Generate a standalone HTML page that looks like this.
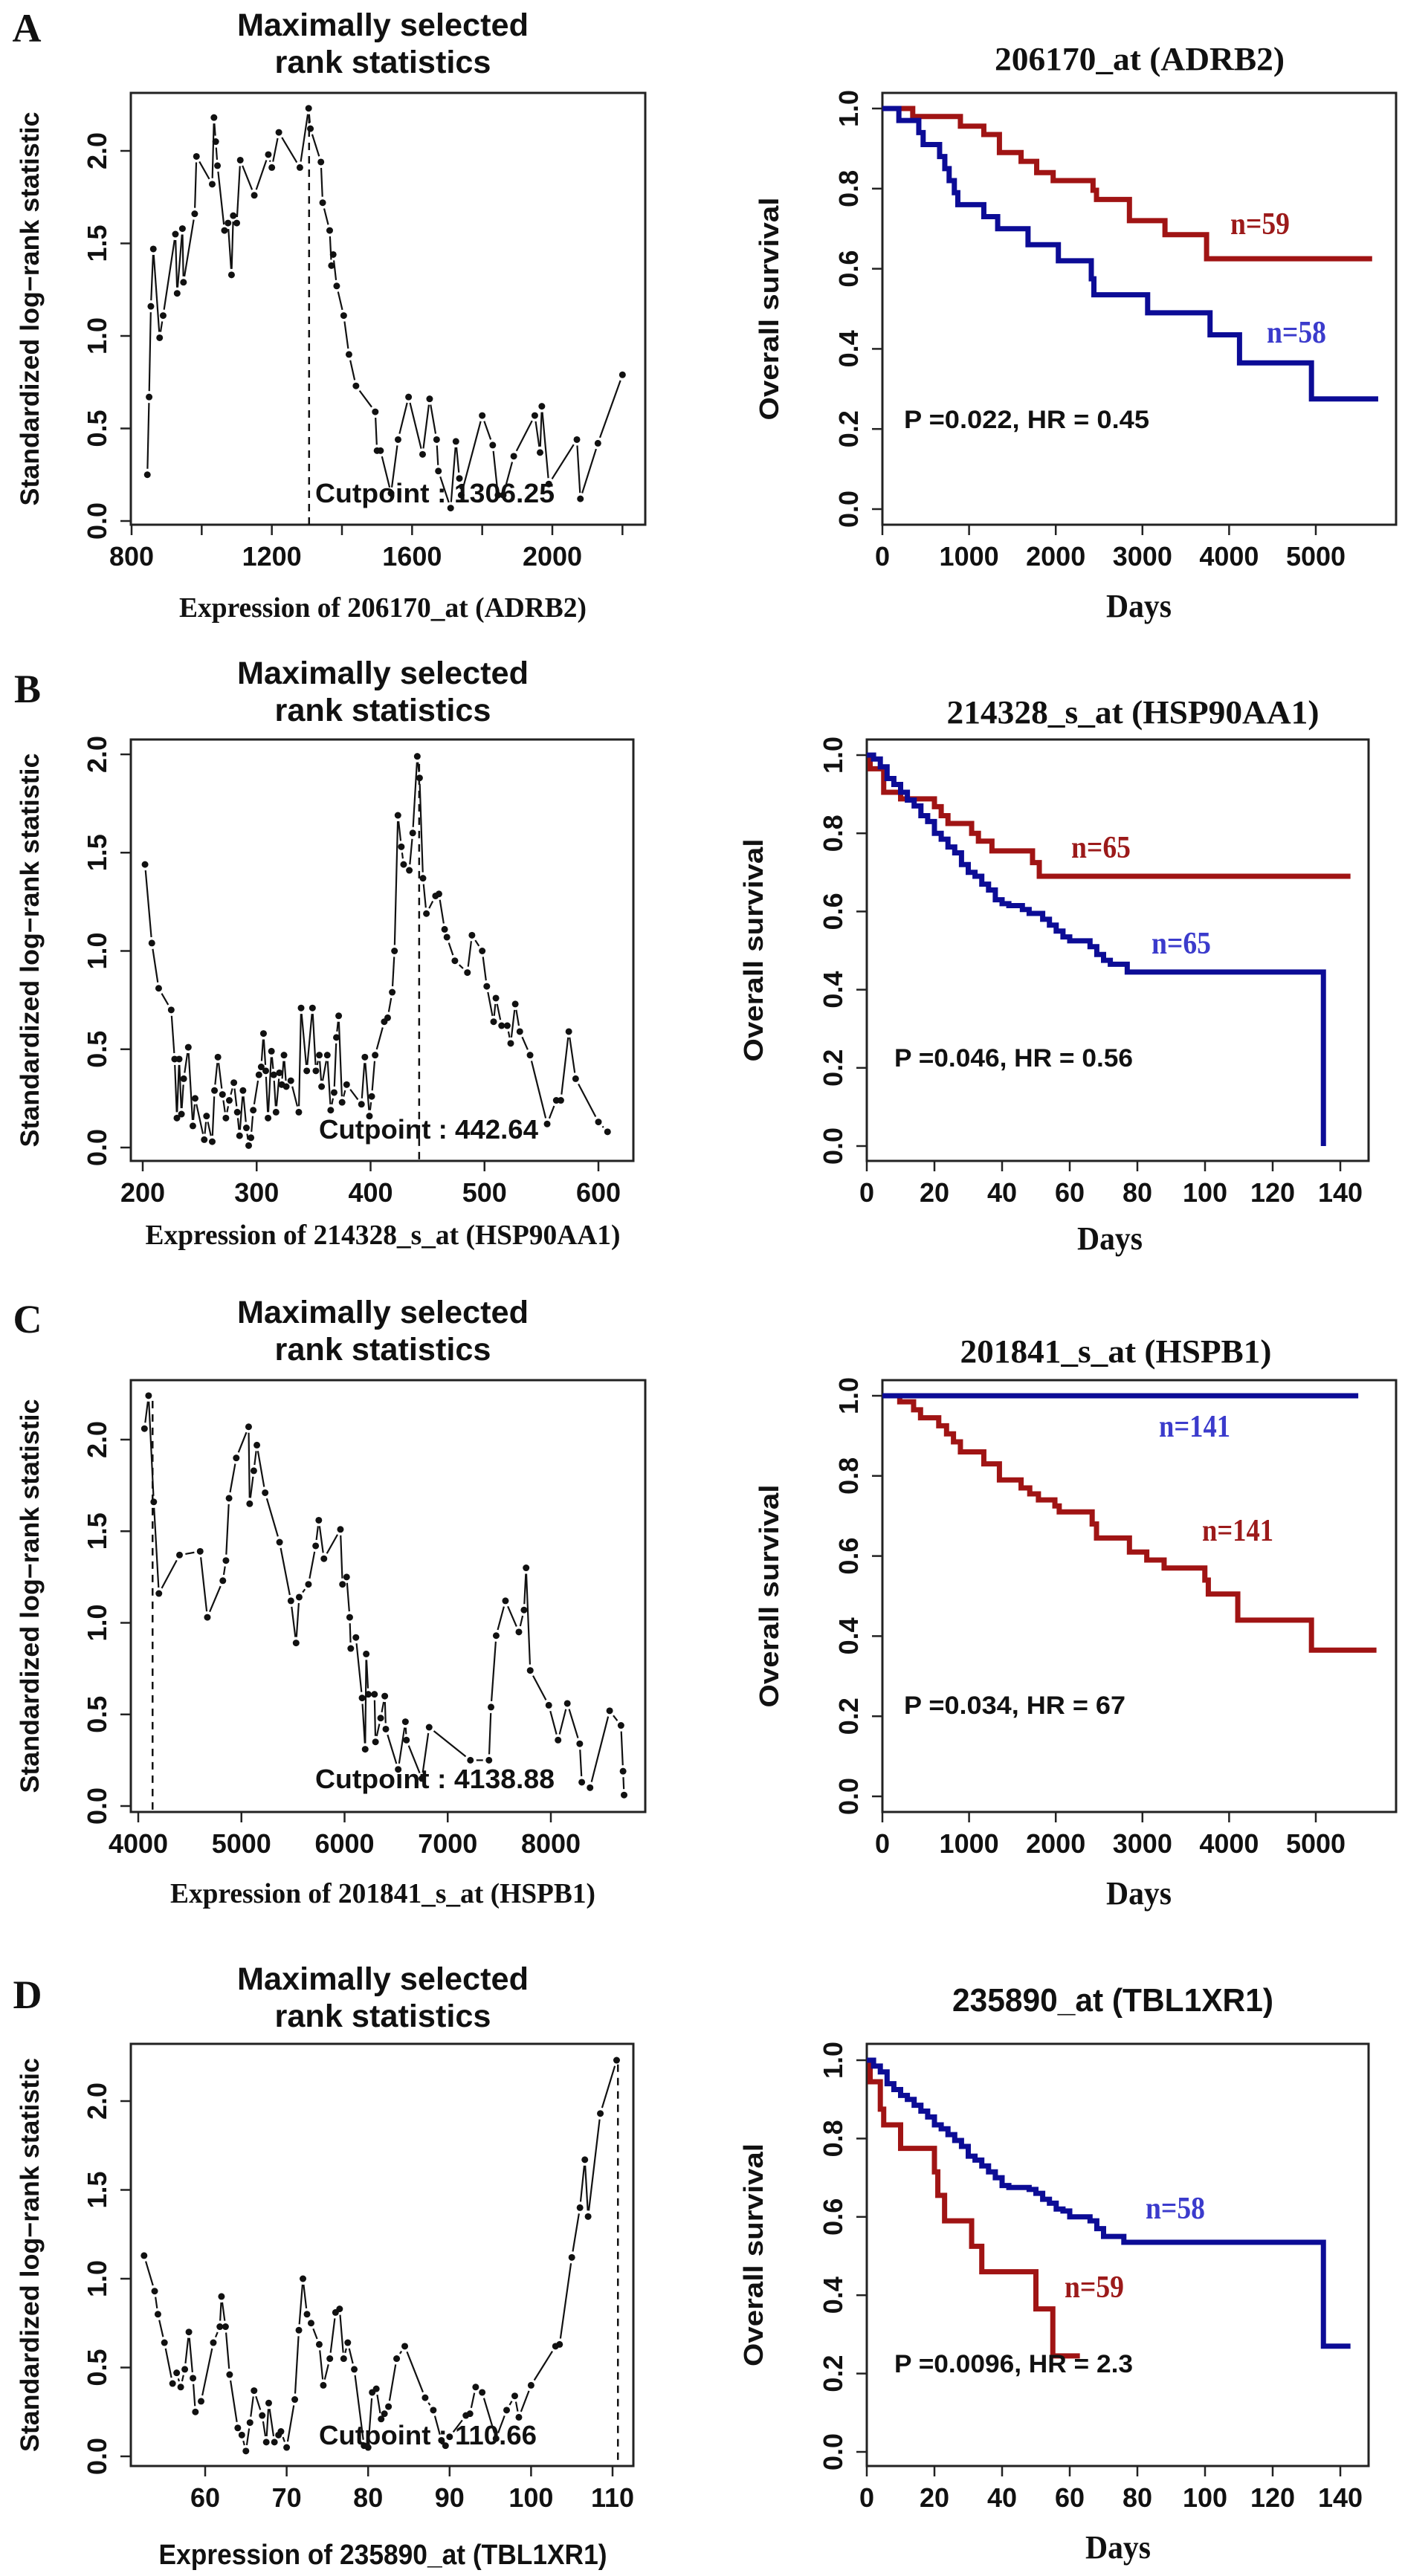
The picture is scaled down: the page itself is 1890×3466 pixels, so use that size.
<!DOCTYPE html>
<html><head><meta charset="utf-8"><title>Maxstat and KM survival panels</title>
<style>
html,body{margin:0;padding:0;background:#fff;}
svg{display:block;}
.sans{font-family:"Liberation Sans",Arial,sans-serif;font-weight:bold;}
.serif{font-family:"Liberation Serif","Times New Roman",serif;font-weight:bold;}
</style></head>
<body>
<svg id="fig" xmlns="http://www.w3.org/2000/svg" width="1890" height="3466" viewBox="0 0 1890 3466"></svg>
<script>
// ---------- DATA ----------
const aStatX = [845,850,855,862,880,890,925,930,945,948,980,985,1030,1035,1040,1045,1065,1075,1085,1090,1100,1110,1150,1190,1200,1220,1280,1305,1310,1340,1345,1365,1370,1375,1385,1405,1420,1440,1495,1500,1510,1540,1560,1590,1630,1650,1670,1675,1710,1725,1735,1740,1800,1830,1845,1860,1890,1950,1965,1970,1990,2070,2080,2130,2200];
const aStatY = [0.25,0.67,1.16,1.47,0.99,1.11,1.55,1.23,1.58,1.29,1.66,1.97,1.82,2.18,2.05,1.92,1.57,1.61,1.33,1.65,1.61,1.95,1.76,1.98,1.91,2.10,1.91,2.23,2.12,1.94,1.72,1.57,1.38,1.44,1.27,1.11,0.90,0.73,0.59,0.38,0.38,0.15,0.44,0.67,0.36,0.66,0.44,0.27,0.07,0.43,0.23,0.14,0.57,0.41,0.14,0.14,0.35,0.57,0.37,0.62,0.20,0.44,0.12,0.42,0.79];
const aCut = 1306.25;
const bStatX = [202,208,214,225,228,230,232,234,236,240,244,246,254,256,261,263,266,270,273,276,280,283,285,288,291,293,295,297,302,304,306,308,310,313,315,317,320,322,324,326,330,337,339,344,349,352,355,357,362,365,368,370,372,375,379,392,395,399,401,404,412,415,419,421,424,427,429,434,437,441,443,446,449,457,460,465,467,474,485,489,498,502,508,510,515,520,523,527,531,540,555,563,567,574,580,600,608];
const bStatY = [1.44,1.04,0.81,0.70,0.45,0.15,0.45,0.17,0.35,0.51,0.11,0.25,0.04,0.16,0.03,0.29,0.46,0.27,0.15,0.24,0.33,0.18,0.06,0.29,0.10,0.01,0.05,0.19,0.37,0.41,0.58,0.39,0.15,0.49,0.37,0.18,0.38,0.32,0.47,0.31,0.34,0.18,0.71,0.39,0.71,0.39,0.47,0.31,0.47,0.19,0.28,0.56,0.67,0.23,0.32,0.22,0.46,0.16,0.26,0.47,0.64,0.66,0.79,1.00,1.69,1.53,1.44,1.41,1.60,1.99,1.88,1.37,1.19,1.28,1.29,1.11,1.07,0.95,0.89,1.08,1.00,0.82,0.64,0.76,0.62,0.62,0.53,0.73,0.59,0.47,0.12,0.24,0.24,0.59,0.35,0.13,0.08];
const bCut = 442.64;
const cStatX = [4060,4100,4150,4200,4400,4600,4670,4820,4850,4880,4950,5070,5080,5120,5150,5230,5370,5480,5530,5560,5650,5720,5750,5800,5960,5980,6020,6050,6060,6110,6170,6200,6210,6230,6290,6300,6350,6390,6400,6520,6590,6600,6750,6820,7220,7400,7420,7470,7560,7690,7740,7760,7800,7980,8070,8160,8280,8300,8380,8570,8680,8700,8710];
const cStatY = [2.06,2.24,1.66,1.16,1.37,1.39,1.03,1.23,1.34,1.68,1.90,2.07,1.65,1.83,1.97,1.71,1.44,1.12,0.89,1.14,1.21,1.42,1.56,1.35,1.51,1.21,1.25,1.03,0.86,0.92,0.59,0.31,0.83,0.61,0.61,0.35,0.48,0.60,0.42,0.20,0.46,0.36,0.15,0.43,0.25,0.25,0.54,0.93,1.12,0.95,1.07,1.30,0.74,0.55,0.36,0.56,0.34,0.13,0.10,0.52,0.44,0.19,0.06];
const cCut = 4138.88;
const dStatX = [52.5,53.8,54.2,55,56,56.5,57,57.5,58,58.5,58.8,59.5,61,61.8,62,62.5,63,64,64.5,65,65.5,66,67,67.5,67.8,68.5,69,69.3,70,71,71.5,72,72.5,73,74,74.5,75.3,76,76.5,77,77.5,78.3,79.5,80,80.5,81,81.6,82,82.5,83.5,84.5,87,88,89,89.5,90,92,92.5,93.2,94,95.7,97,98,98.5,100,103,103.5,105,106,106.6,107,108.5,110.5];
const dStatY = [1.13,0.93,0.80,0.64,0.41,0.47,0.39,0.49,0.70,0.44,0.25,0.31,0.64,0.73,0.90,0.73,0.46,0.16,0.12,0.03,0.19,0.37,0.23,0.08,0.30,0.08,0.12,0.14,0.05,0.32,0.71,1.00,0.80,0.75,0.63,0.40,0.55,0.81,0.83,0.55,0.64,0.49,0.06,0.05,0.36,0.38,0.21,0.24,0.28,0.55,0.62,0.33,0.26,0.09,0.06,0.11,0.23,0.24,0.39,0.36,0.10,0.26,0.34,0.22,0.40,0.62,0.63,1.12,1.40,1.67,1.35,1.93,2.23];
const dCut = 110.66;

const aRedT = [0,350,900,1170,1350,1600,1780,1970,2430,2470,2850,3260,3740,5650];
const aRedS = [1,0.98,0.956,0.935,0.89,0.868,0.84,0.82,0.796,0.773,0.72,0.685,0.625,0.625];
const aBlueT = [0,190,420,470,660,720,770,830,870,1170,1330,1680,2030,2410,2440,3060,3780,4120,4950,5720];
const aBlueS = [1,0.97,0.94,0.91,0.88,0.85,0.82,0.79,0.76,0.73,0.70,0.66,0.62,0.575,0.535,0.49,0.435,0.365,0.275,0.275];
const bRedT = [0,1,5,10,20,22,24,31,33,37,49,51,143];
const bRedS = [1,0.965,0.905,0.888,0.868,0.845,0.825,0.80,0.78,0.755,0.725,0.69,0.69];
const bBlueT = [0,2,4,6,8,10,12,14,16,18,20,22,24,26,28,30,32,34,36,38,40,42,46,48,52,54,56,58,60,66,68,70,72,77,135,135];
const bBlueS = [1,0.99,0.97,0.94,0.925,0.905,0.885,0.87,0.845,0.83,0.80,0.785,0.765,0.75,0.72,0.70,0.69,0.67,0.655,0.63,0.62,0.615,0.605,0.595,0.58,0.565,0.55,0.535,0.525,0.51,0.49,0.475,0.465,0.445,0,0];
const cBlueT = [0,5490];
const cBlueS = [1,1];
const cRedT = [0,200,360,440,650,740,820,900,1170,1350,1600,1700,1800,1990,2040,2420,2470,2850,3050,3250,3720,3760,4100,4950,5700];
const cRedS = [1,0.985,0.965,0.945,0.925,0.905,0.885,0.86,0.83,0.79,0.77,0.755,0.74,0.725,0.71,0.68,0.645,0.61,0.59,0.57,0.54,0.505,0.44,0.365,0.365];
const dRedT = [0,1,4,5,10,20,21,23,31,34,50,55,63];
const dRedS = [1,0.945,0.875,0.835,0.775,0.715,0.655,0.59,0.525,0.46,0.365,0.245,0.245];
const dBlueT = [0,2,4,6,8,10,12,14,16,18,20,22,24,26,28,30,32,34,36,38,40,42,48,50,52,54,56,58,60,66,68,70,76,135,143];
const dBlueS = [1,0.985,0.97,0.94,0.925,0.91,0.9,0.885,0.87,0.855,0.835,0.825,0.81,0.795,0.78,0.755,0.745,0.73,0.715,0.70,0.68,0.675,0.67,0.66,0.645,0.635,0.62,0.615,0.60,0.59,0.57,0.55,0.535,0.27,0.27];

const statYTicks = [0,0.5,1.0,1.5,2.0];
const statYTickLabels = ["0.0","0.5","1.0","1.5","2.0"];
const kmYTicks = [0,0.2,0.4,0.6,0.8,1.0];
const kmYTickLabels = ["0.0","0.2","0.4","0.6","0.8","1.0"];
const aStatXTicks = [800,1000,1200,1400,1600,1800,2000,2200];
const aStatXLabels = ["800","","1200","","1600","","2000",""];
const bStatXTicks = [200,300,400,500,600];
const cStatXTicks = [4000,5000,6000,7000,8000];
const dStatXTicks = [60,70,80,90,100,110];
const daysTicksLong = [0,1000,2000,3000,4000,5000];
const daysTicksShort = [0,20,40,60,80,100,120,140];

// ---------- DRAWING ----------
const NS = "http://www.w3.org/2000/svg";
const svg = document.getElementById('fig');
const RED = "#a01414", BLUE = "#0c0c96", NRED = "#9c1a1a", NBLUE = "#3b3bcc";

function mk(tag, attrs, parent) {
  const e = document.createElementNS(NS, tag);
  for (const k in attrs) e.setAttribute(k, attrs[k]);
  (parent || svg).appendChild(e);
  return e;
}
function txt(parent, x, y, s, cls, size, anchor, fill, tl, rot) {
  const a = {x: x, y: y, 'font-size': size, 'text-anchor': anchor || 'middle', fill: fill || '#111', class: cls};
  if (tl) { a.textLength = tl; a.lengthAdjust = 'spacingAndGlyphs'; }
  if (rot) a.transform = 'rotate(' + rot + ' ' + x + ' ' + y + ')';
  const e = mk('text', a, parent);
  e.textContent = s;
  return e;
}
function lin(p0, v0, p1, v1) { return v => p0 + (v - v0) * (p1 - p0) / (v1 - v0); }

function frame(g, box) {
  const r = mk('rect', {x: box[0], y: box[1], width: box[2]-box[0], height: box[3]-box[1], fill: 'none', stroke: '#222', 'stroke-width': 3}, g);
  
  
}
function axes(g, box, sx, sy, xt, xl, yt, yl) {
  const xa = mk('g', {}, g);
  
  
  xt.forEach((v, i) => {
    const px = sx(v);
    mk('line', {x1: px, y1: box[3], x2: px, y2: box[3] + 14, stroke: '#222', 'stroke-width': 2.5}, xa);
    if (xl[i]) {
      const t = txt(xa, px, box[3] + 55, xl[i], 'sans', 36);
      
      
    }
  });
  const ya = mk('g', {}, g);
  
  
  yt.forEach((v, i) => {
    const py = sy(v);
    mk('line', {x1: box[0] - 14, y1: py, x2: box[0], y2: py, stroke: '#222', 'stroke-width': 2.5}, ya);
    const t = txt(ya, box[0] - 33, py, yl[i], 'sans', 36, 'middle', '#111', null, -90);
    
    
  });
}

function statPanel(id, box, sx, sy, xs, ys, cut, xt, xl, yBottom, titleY, xTitle, xTitleCls, xTitleW, xTitleY, cutTxt, cutX, cutY, cutW) {
  const g = mk('g', {});
  
  
  const t1 = txt(g, 515, titleY + 14, 'Maximally selected', 'sans', 43, 'middle', '#111', 392);
  
  
  const t2 = txt(g, 515, titleY + 64, 'rank statistics', 'sans', 43, 'middle', '#111', 291);
  
  
  frame(g, box);
  axes(g, box, sx, sy, xt, xl, statYTicks, statYTickLabels);
  const yt = txt(g, 52, (box[1] + box[3]) / 2, 'Standardized log\u2212rank statistic', 'sans', 35, 'middle', '#111', 530, -90);
  
  
  const xtt = txt(g, 515, xTitleY, xTitle, xTitleCls, 38, 'middle', '#111', xTitleW);
  
  
  const sg = mk('g', {}, g);
  
  
  const gap = 8;
  for (let i = 0; i < xs.length - 1; i++) {
    const x0 = sx(xs[i]), y0 = sy(ys[i]), x1 = sx(xs[i+1]), y1 = sy(ys[i+1]);
    const L = Math.hypot(x1 - x0, y1 - y0);
    if (L > 2 * gap + 1) {
      const ux = (x1 - x0) / L, uy = (y1 - y0) / L;
      const seg = mk('line', {x1: x0 + ux*gap, y1: y0 + uy*gap, x2: x1 - ux*gap, y2: y1 - uy*gap, stroke: '#111', 'stroke-width': 2.2}, sg);
      
      
    }
  }
  for (let i = 0; i < xs.length; i++) {
    const c = mk('circle', {cx: sx(xs[i]), cy: sy(ys[i]), r: 4.5, fill: '#111'}, sg);
    
    
  }
  const maxY = Math.max.apply(null, ys);
  const cl = mk('line', {x1: sx(cut), y1: sy(yBottom), x2: sx(cut), y2: sy(maxY), stroke: '#111', 'stroke-width': 2.5, 'stroke-dasharray': '10,8'}, g);
  
  
  const ct = txt(g, cutX, cutY, cutTxt, 'sans', 36, 'start', '#111', cutW);
  
  
}

function stepPath(sx, sy, T, S) {
  let d = 'M' + sx(T[0]) + ',' + sy(S[0]);
  for (let i = 1; i < T.length; i++) {
    d += ' H' + sx(T[i]) + ' V' + sy(S[i]);
  }
  return d;
}

function kmPanel(id, box, sx, sy, xt, title, titleCls, titleX, titleY, titleW, daysX, daysY, red, blue, nRed, nBlue, pTxt, pX, pY, pW) {
  const g = mk('g', {});
  
  
  const tt = txt(g, titleX, titleY + 15, title, titleCls, 44, 'middle', '#111', titleW);
  
  
  frame(g, box);
  axes(g, box, sx, sy, xt, xt.map(String), kmYTicks, kmYTickLabels);
  const yt = txt(g, box[0] - 140, (box[1] + box[3]) / 2, 'Overall survival', 'sans', 36, 'middle', '#111', 300, -90);
  
  
  const dt = txt(g, daysX, daysY + 14, 'Days', 'serif', 44, 'middle', '#111', 88);
  
  
  const rp = mk('path', {d: stepPath(sx, sy, red[0], red[1]), fill: 'none', stroke: RED, 'stroke-width': 7, 'stroke-linejoin': 'miter'}, g);
  
  
  const bp = mk('path', {d: stepPath(sx, sy, blue[0], blue[1]), fill: 'none', stroke: BLUE, 'stroke-width': 7, 'stroke-linejoin': 'miter'}, g);
  
  
  const nr = txt(g, nRed[0], nRed[1] + 14, nRed[2], 'serif', 42, 'middle', NRED, nRed[3] || 80);
  
  
  const nb = txt(g, nBlue[0], nBlue[1] + 14, nBlue[2], 'serif', 42, 'middle', NBLUE, nBlue[3] || 80);
  
  
  const pt = txt(g, pX, pY, pTxt, 'sans', 34, 'start', '#111', pW);
  
  
}

function letter(s, x, y) {
  const t = txt(svg, x, y, s, 'serif', 54, 'middle', '#111');
  
  
}

letter('A', 36, 56);
letter('B', 37, 945);
letter('C', 37, 1793);
letter('D', 37, 2702);

statPanel('panel-a-maxstat', [176,125,868,706], lin(177,800,743,2000), lin(701,0,203,2), aStatX, aStatY, aCut,
  aStatXTicks, aStatXLabels, -0.02, 34, 'Expression of 206170_at (ADRB2)', 'serif', 548, 830,
  'Cutpoint :  1306.25', 424, 676, 322);
kmPanel('panel-a-survival', [1187,125,1878,706], lin(1187,0,1770,5000), lin(685,0,146,1), daysTicksLong,
  '206170_at (ADRB2)', 'serif', 1533, 79, 390, 1532, 816,
  [aRedT, aRedS], [aBlueT, aBlueS], [1695, 301, 'n=59'], [1744, 447, 'n=58'],
  'P =0.022, HR = 0.45', 1216, 576, 330);

statPanel('panel-b-maxstat', [176,995,852,1562], lin(192,200,805,600), lin(1544,0,1015,2), bStatX, bStatY, bCut,
  bStatXTicks, bStatXTicks.map(String), -0.06, 906, 'Expression of 214328_s_at (HSP90AA1)', 'serif', 639, 1674,
  'Cutpoint :  442.64', 429, 1532, 295);
kmPanel('panel-b-survival', [1166,995,1841,1562], lin(1166,0,1803,140), lin(1542,0,1016,1), daysTicksShort,
  '214328_s_at (HSP90AA1)', 'serif', 1524, 958, 501, 1493, 1667,
  [bRedT, bRedS], [bBlueT, bBlueS], [1481, 1140, 'n=65'], [1589, 1269, 'n=65'],
  'P =0.046, HR = 0.56', 1203, 1435, 321);

statPanel('panel-c-maxstat', [176,1857,868,2438], lin(186,4000,741,8000), lin(2430,0,1937,2), cStatX, cStatY, cCut,
  cStatXTicks, cStatXTicks.map(String), -0.02, 1766, 'Expression of 201841_s_at (HSPB1)', 'serif', 572, 2560,
  'Cutpoint :  4138.88', 424, 2406, 322);
kmPanel('panel-c-survival', [1187,1857,1878,2438], lin(1187,0,1770,5000), lin(2417,0,1878,1), daysTicksLong,
  '201841_s_at (HSPB1)', 'serif', 1501, 1818, 419, 1532, 2548,
  [cRedT, cRedS], [cBlueT, cBlueS], [1665, 2059, 'n=141', 96], [1607, 1919, 'n=141', 96],
  'P =0.034, HR = 67', 1216, 2306, 298);

statPanel('panel-d-maxstat', [176,2750,852,3318], lin(276,60,824,110), lin(3305,0,2827,2), dStatX, dStatY, dCut,
  dStatXTicks, dStatXTicks.map(String), -0.02, 2663, 'Expression of 235890_at (TBL1XR1)', 'sans', 603, 3450,
  'Cutpoint :  110.66', 429, 3289, 293);
kmPanel('panel-d-survival', [1166,2750,1841,3318], lin(1166,0,1803,140), lin(3299,0,2772,1), daysTicksShort,
  '235890_at (TBL1XR1)', 'sans', 1497, 2691, 432, 1504, 3428,
  [dRedT, dRedS], [dBlueT, dBlueS], [1472, 3077, 'n=59'], [1581, 2971, 'n=58'],
  'P =0.0096, HR = 2.3', 1203, 3192, 321);
</script>
</body></html>
